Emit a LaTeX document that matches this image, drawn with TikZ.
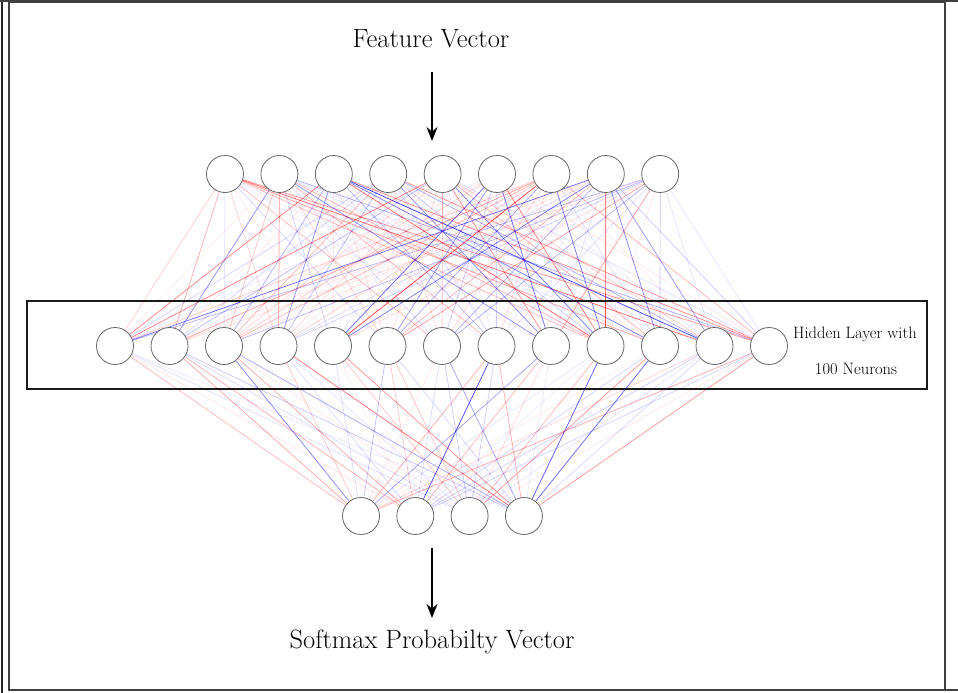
\documentclass[tikz,border=0pt]{standalone}
\usetikzlibrary{arrows.meta,backgrounds}
\begin{document}
\begin{tikzpicture}[x=1pt,y=-1pt,
  neuron/.style={circle,draw=black!60,line width=0.8pt,fill=white,minimum size=37pt,inner sep=0pt},
  edge/.style={line width=0.7pt},
  bigarrow/.style={line width=1.7pt,-{Stealth[length=14pt,width=11pt]}},
  frameline/.style={draw=black!75,line width=2pt}]
\useasboundingbox (0,0) rectangle (958,693);

% outer frame
\draw[frameline] (9,2) rectangle (945,690);
\draw[draw=black!85,line width=2pt] (1.5,0) -- (1.5,693);
\draw[frameline] (0,1.5) -- (958,1.5);
\draw[frameline] (9,690) -- (958,690);

% titles
\node (ftitle) at (431,39) {\fontsize{26.5}{30}\selectfont Feature Vector};
\node (stitle) at (432,642) {\fontsize{26.5}{30}\selectfont Softmax Probabilty Vector};
\coordinate (fa1) at (432,72);
\coordinate (fa2) at (432,141);
\coordinate (sa1) at (432,548);
\coordinate (sa2) at (432,618);
\draw[bigarrow] (fa1) -- (fa2);
\draw[bigarrow] (sa1) -- (sa2);

% layers of neurons
\foreach \i in {1,...,9}
  \node[neuron] (t\i) at ({225+54.4*(\i-1)},174) {};
\foreach \j in {1,...,13}
  \node[neuron] (h\j) at ({115+54.5*(\j-1)},346) {};
\foreach \k in {1,...,4}
  \node[neuron] (o\k) at ({361+54.3*(\k-1)},516) {};

% weighted connections
\pgfmathsetseed{4242}
\begin{scope}[on background layer]
\foreach \i in {1,...,9}{
  \foreach \j in {1,...,13}{
    \pgfmathtruncatemacro\sgn{rnd<0.5}
    \pgfmathsetmacro\op{0.08+0.75*rnd*rnd}
    \ifnum\sgn=1 \def\cc{red}\else\def\cc{blue}\fi
    \draw[edge,draw=\cc,draw opacity=\op] (t\i) -- (h\j);
  }
}
\foreach \j in {1,...,13}{
  \foreach \k in {1,...,4}{
    \pgfmathtruncatemacro\sgn{rnd<0.5}
    \pgfmathsetmacro\op{0.08+0.75*rnd*rnd}
    \ifnum\sgn=1 \def\cc{red}\else\def\cc{blue}\fi
    \draw[edge,draw=\cc,draw opacity=\op] (h\j) -- (o\k);
  }
}
\end{scope}

% hidden layer frame and label
\draw[line width=1.8pt,draw=black!90] (27,301) rectangle (927,389);
\node (hl1) at (855,334) {\fontsize{16.5}{19}\selectfont Hidden Layer with};
\node (hl2) at (856,369) {\fontsize{16.5}{19}\selectfont 100 Neurons};
\end{tikzpicture}
\end{document}
